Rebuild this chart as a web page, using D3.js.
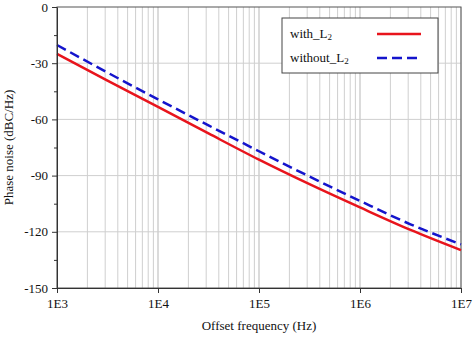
<!DOCTYPE html>
<html><head><meta charset="utf-8">
<script src="https://d3js.org/d3.v7.min.js"></script>
<style>body{margin:0;background:#fff}svg{display:block}
svg text{font-family:"Liberation Serif","DejaVu Serif","Times New Roman",serif !important;}</style>
</head><body>
<script>
const freqs = [1e3, 3.162e3, 1e4, 3.162e4, 1e5, 3.162e5, 1e6, 3.162e6, 1e7];
const withL2 = [-25, -39.3, -53.3, -67.5, -81.5, -94.6, -107, -119, -129.8];
const withoutL2 = [-20.3, -35, -49.3, -63.2, -77, -90.5, -103.5, -116, -126.7];
const xTicks = [1e3, 1e4, 1e5, 1e6, 1e7];
const xTickLabels = ["1E3", "1E4", "1E5", "1E6", "1E7"];
const yTicks = [0, -30, -60, -90, -120, -150];
const yMinor = [-15, -45, -75, -105, -135];

const W = 474, H = 338;
const m = {l: 57, t: 7, r: 13, b: 50};
const svg = d3.select("body").append("svg").attr("width", W).attr("height", H);
const x = d3.scaleLog().domain([1e3, 1e7]).range([m.l, W - m.r]);
const y = d3.scaleLinear().domain([-150, 0]).range([H - m.b, m.t]);

// grid
const minors = [];
for (let d = 1e3; d < 1e7; d *= 10) for (let k = 1; k <= 10; k++) minors.push(d * k);
svg.append("g").selectAll("line").data(minors).join("line")
  .attr("x1", d => x(d)).attr("x2", d => x(d)).attr("y1", m.t).attr("y2", H - m.b)
  .attr("stroke", "#cfcfcf").attr("stroke-width", 1);
svg.append("g").selectAll("line").data(yTicks.slice(1, -1)).join("line")
  .attr("x1", m.l).attr("x2", W - m.r).attr("y1", d => y(d)).attr("y2", d => y(d))
  .attr("stroke", "#cfcfcf").attr("stroke-width", 1);

// frame
svg.append("rect").attr("x", m.l).attr("y", m.t).attr("width", W - m.r - m.l).attr("height", H - m.b - m.t)
  .attr("fill", "none").attr("stroke", "#555").attr("stroke-width", 1);

// lines
const line = d3.line().x((d, i) => x(freqs[i])).y(d => y(d)).curve(d3.curveMonotoneX);
svg.append("path").datum(withL2).attr("d", line).attr("fill", "none")
  .attr("stroke", "#e8141c").attr("stroke-width", 2.5);
svg.append("path").datum(withoutL2).attr("d", line).attr("fill", "none")
  .attr("stroke", "#1414cc").attr("stroke-width", 2.5).attr("stroke-dasharray", "10,5");

// axes
const xAxis = svg.append("g").attr("transform", `translate(0,${H - m.b})`)
  .call(d3.axisBottom(x).tickValues(xTicks).tickFormat((d, i) => xTickLabels[i]).tickSize(5).tickSizeOuter(0));
const yAxis = svg.append("g").attr("transform", `translate(${m.l},0)`)
  .call(d3.axisLeft(y).tickValues(yTicks).tickFormat(d => d === 0 ? "0" : "-" + Math.abs(d)).tickSize(5).tickSizeOuter(0));
svg.append("g").attr("transform", `translate(${m.l},0)`)
  .call(d3.axisLeft(y).tickValues(yMinor).tickFormat("").tickSize(3).tickSizeOuter(0))
  .select(".domain").remove();
svg.selectAll(".domain").attr("stroke", "#333");
svg.selectAll(".tick line").attr("stroke", "#333");
svg.selectAll(".tick text").attr("font-size", 13).attr("fill", "#111");
xAxis.selectAll(".tick text").attr("dy", "0.9em");
yAxis.selectAll(".tick text").attr("dx", "-1px");

// titles
svg.append("text").attr("x", (m.l + W - m.r) / 2).attr("y", 330).attr("text-anchor", "middle")
  .attr("font-size", 13).attr("fill", "#111").text("Offset frequency (Hz)");
svg.append("text").attr("transform", `translate(13,${(m.t + H - m.b) / 2}) rotate(-90)`).attr("text-anchor", "middle")
  .attr("font-size", 13).attr("fill", "#111").text("Phase noise (dBC/Hz)");

// legend
const lg = svg.append("g");
lg.append("rect").attr("x", 282).attr("y", 18).attr("width", 156).attr("height", 55)
  .attr("fill", "#fff").attr("stroke", "#444").attr("stroke-width", 1);
const items = [{n: "with_L", c: "#e8141c", dash: null, y: 34}, {n: "without_L", c: "#1414cc", dash: "10,5", y: 58}];
items.forEach(it => {
  const t = lg.append("text").attr("x", 290).attr("y", it.y + 4).attr("font-size", 13).attr("fill", "#111");
  t.append("tspan").text(it.n);
  t.append("tspan").attr("font-size", 9).attr("dy", 2).text("2");
  lg.append("line").attr("x1", 377).attr("x2", 421).attr("y1", it.y).attr("y2", it.y)
    .attr("stroke", it.c).attr("stroke-width", 2.5).attr("stroke-dasharray", it.dash);
});
</script>
</body></html>
